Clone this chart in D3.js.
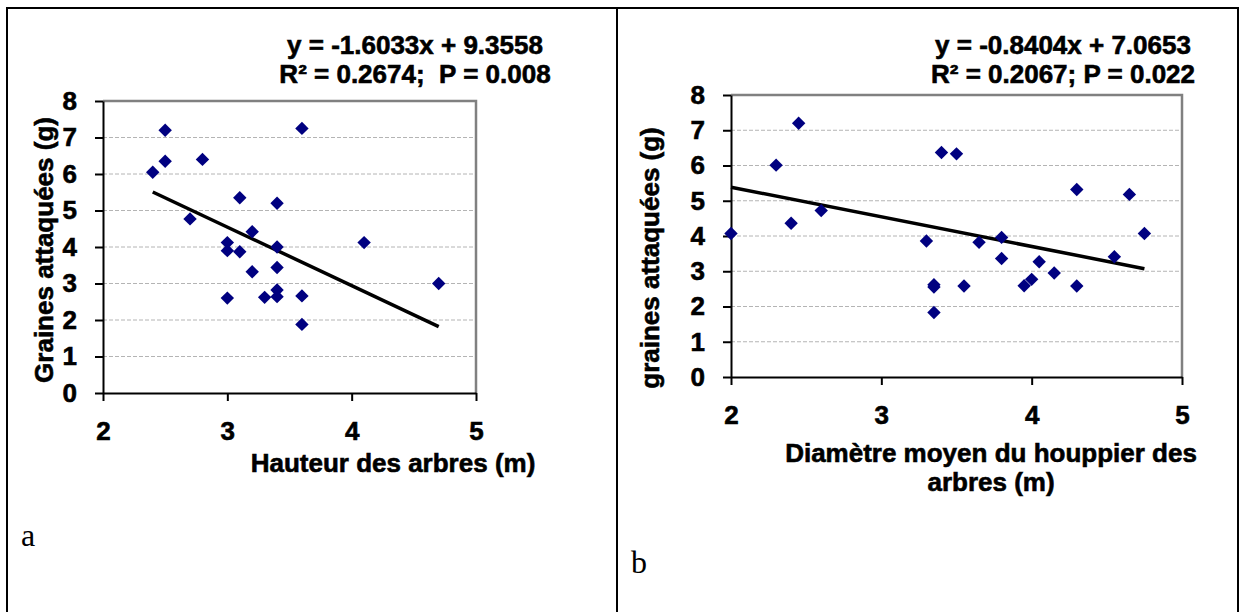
<!DOCTYPE html>
<html>
<head>
<meta charset="utf-8">
<script src="https://cdn.jsdelivr.net/npm/d3@7"></script>
<style>
    body { margin: 0; background: #fff; }
    svg text { font-family: Arial, "Liberation Sans", sans-serif; font-weight: bold; fill: #000; stroke: #000; stroke-width: 0.6px; white-space: pre; }
    svg text.lettre { font-family: "Times New Roman", "Liberation Serif", serif; font-weight: normal; stroke: none; }
</style>
</head>
<body>
<svg width="1245" height="612"></svg>
<script>
// a : hauteur des arbres (m) / graines attaquées (g)
var hauteurX = [2.5, 2.5, 2.4, 2.8, 3.6, 3.1, 3.4, 2.7, 3.2, 3.0, 3.0, 3.1, 3.4, 4.1, 3.4, 3.2, 4.7, 3.4, 3.4, 3.3, 3.0, 3.6, 3.6];
var hauteurY = [7.2, 6.35, 6.05, 6.4, 7.25, 5.35, 5.2, 4.77, 4.42, 4.12, 3.9, 3.87, 4.0, 4.12, 3.44, 3.32, 3.0, 2.82, 2.64, 2.62, 2.6, 2.66, 1.88];
var equationA = ["y = -1.6033x + 9.3558", "R² = 0.2674;  P = 0.008"];
var penteA = -1.6033, origineA = 9.3558;

// b : diamètre moyen du houppier (m) / graines attaquées (g)
var diametreX = [2.0, 2.3, 2.45, 2.4, 2.6, 3.3, 3.4, 3.5, 3.35, 3.35, 3.35, 3.55, 3.65, 3.8, 3.8, 3.95, 4.0, 4.05, 4.15, 4.3, 4.3, 4.55, 4.65, 4.75];
var diametreY = [4.07, 6.01, 7.2, 4.36, 4.72, 3.86, 6.37, 6.33, 2.62, 2.55, 1.83, 2.58, 3.82, 3.96, 3.36, 2.59, 2.77, 3.27, 2.95, 5.32, 2.58, 3.41, 5.18, 4.07];
var equationB = ["y = -0.8404x + 7.0653", "R² = 0.2067; P = 0.022"];
var penteB = -0.8404, origineB = 7.0653;

var xTicks = [2, 3, 4, 5];
var yTicks = [0, 1, 2, 3, 4, 5, 6, 7, 8];
var grilleY = [1, 2, 3, 4, 5, 6, 7];

var svg = d3.select("svg");

// cadre du tableau
svg.append("rect").attr("x", 7).attr("y", 8).attr("width", 1231).attr("height", 620)
    .attr("fill", "none").attr("stroke", "#000").attr("stroke-width", 2);
svg.append("line").attr("x1", 617).attr("x2", 617).attr("y1", 8).attr("y2", 612)
    .attr("stroke", "#000").attr("stroke-width", 2);

function nuage(o) {
    var x = d3.scaleLinear().domain([2, 5]).range([o.gauche, o.droite]);
    var y = d3.scaleLinear().domain([0, 8]).range([o.bas, o.haut]);
    var g = svg.append("g");

    // grille
    g.selectAll(".grille").data(grilleY).enter().append("line")
        .attr("x1", x(2)).attr("x2", x(5))
        .attr("y1", function (d) { return y(d); }).attr("y2", function (d) { return y(d); })
        .attr("stroke", "#b4b4b4").attr("stroke-width", 1).attr("stroke-dasharray", "4,2");

    // cadre gris haut / droite
    g.append("path")
        .attr("d", "M" + x(2) + "," + y(8) + "H" + x(5) + "V" + y(0))
        .attr("fill", "none").attr("stroke", "#808080").attr("stroke-width", 2.5);

    var axeY = g.append("g").attr("transform", "translate(" + x(2) + ",0)")
        .call(d3.axisLeft(y).tickValues(yTicks).tickSize(8).tickSizeOuter(0).tickPadding(18).tickFormat(d3.format("d")));
    var axeX = g.append("g").attr("transform", "translate(0," + y(0) + ")")
        .call(d3.axisBottom(x).tickValues(xTicks).tickSize(8).tickSizeOuter(0).tickPadding(o.padX).tickFormat(d3.format("d")));
    [axeY, axeX].forEach(function (a) {
        a.selectAll("path, line").attr("stroke", "#000").attr("stroke-width", 2);
        a.selectAll("text").style("font-size", "26px").attr("fill", "#000");
    });

    // droite de régression
    var xs = d3.extent(o.dx);
    g.append("line")
        .attr("x1", x(xs[0])).attr("y1", y(o.pente * xs[0] + o.origine))
        .attr("x2", x(xs[1])).attr("y2", y(o.pente * xs[1] + o.origine))
        .attr("stroke", "#000").attr("stroke-width", 3.5);

    // points
    var losange = d3.symbol().type(d3.symbolSquare).size(90);
    g.selectAll(".pt").data(o.dx).enter().append("path")
        .attr("d", losange)
        .attr("transform", function (d, i) {
            return "translate(" + x(d) + "," + y(o.dy[i]) + ") rotate(45)";
        })
        .attr("fill", "#000080");

    // équation
    g.selectAll(".eq").data(o.equation).enter().append("text")
        .attr("x", o.eqX).attr("y", function (d, i) { return o.eqY + i * 29; })
        .attr("text-anchor", "middle").style("font-size", "26px")
        .text(function (d) { return d; });

    // titres
    g.selectAll(".titreX").data(o.titreX).enter().append("text")
        .attr("x", o.titreXx).attr("y", function (d, i) { return o.titreXy + i * 29; })
        .attr("text-anchor", "middle").style("font-size", "26px")
        .text(function (d) { return d; });
    g.append("text")
        .attr("transform", "translate(" + o.titreYx + "," + o.titreYy + ") rotate(-90)")
        .attr("text-anchor", "middle").style("font-size", "26px")
        .text(o.titreY);

    svg.append("text").attr("class", "lettre").attr("x", o.lettreX).attr("y", o.lettreY)
        .style("font-size", "32px").text(o.lettre);
}

nuage({
    gauche: 103, droite: 476, haut: 101, bas: 393, padX: 21,
    dx: hauteurX, dy: hauteurY, pente: penteA, origine: origineA,
    equation: equationA, eqX: 415, eqY: 54,
    titreX: ["Hauteur des arbres (m)"], titreXx: 393, titreXy: 472,
    titreY: "Graines attaquées (g)", titreYx: 53, titreYy: 250,
    lettre: "a", lettreX: 21, lettreY: 546
});

nuage({
    gauche: 731, droite: 1182, haut: 95, bas: 377, padX: 21,
    dx: diametreX, dy: diametreY, pente: penteB, origine: origineB,
    equation: equationB, eqX: 1063, eqY: 54,
    titreX: ["Diamètre moyen du houppier des", "arbres (m)"], titreXx: 991, titreXy: 462,
    titreY: "graines attaquées (g)", titreYx: 659, titreYy: 258,
    lettre: "b", lettreX: 631, lettreY: 573
});
</script>
</body>
</html>
